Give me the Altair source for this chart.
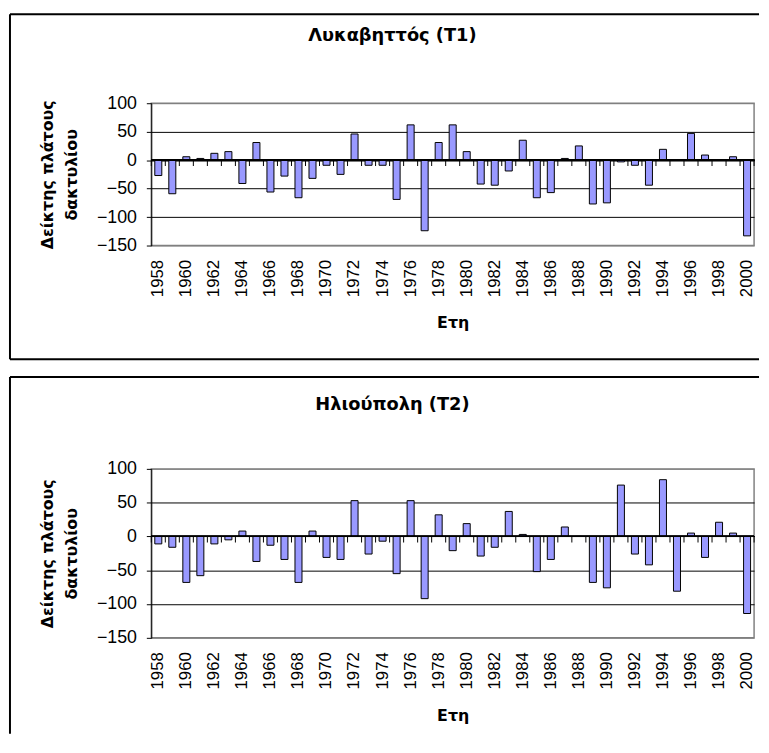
import altair as alt
import pandas as pd

years = list(range(1958, 2001))
label_years = list(range(1958, 2001, 2))
y_ticks = [-150, -100, -50, 0, 50, 100]

t1_title = "Λυκαβηττός (T1)"
t2_title = "Ηλιούπολη (T2)"
y_title = ["Δείκτης πλάτους", "δακτυλίου"]
x_title = "Ετη"

t1_values = [-27, -59, 6, 3, 12, 15, -41, 31, -56, -28, -66, -32, -9, -25, 46,
             -9, -9, -69, 62, -124, 31, 62, 15, -42, -44, -19, 35, -66, -57, 3,
             25, -77, -75, -3, -9, -44, 19, 0, 47, 9, 0, 6, -133]
t2_values = [-11, -16, -68, -58, -11, -5, 8, -37, -13, -34, -68, 8, -31, -34, 53,
             -26, -7, -55, 53, -92, 32, -21, 19, -29, -16, 37, 3, -52, -34, 14,
             0, -68, -76, 76, -26, -42, 84, -81, 5, -31, 21, 5, -114]

PLOT_W = 610
STEP = PLOT_W / len(years)
TITLE_FONT = "DejaVu Sans"
LABEL_FONT = "Liberation Sans"


def panel(title, values, height, title_y, border_top, border_bottom, draw_bottom, xtitle_y):
    df = pd.DataFrame({"year": years, "value": values, "zero": [0] * len(years)})
    one = pd.DataFrame({"t": [title]})

    xscale = alt.Scale(paddingInner=0.5, paddingOuter=0.25)
    xaxis = alt.Axis(values=label_years, title=x_title, titleY=xtitle_y)
    yscale = alt.Scale(domain=[-150, 100], nice=False, zero=False)
    yaxis = alt.Axis(values=y_ticks, title=y_title, titleY=height / 2)

    x = alt.X("year:O", scale=xscale, axis=xaxis)
    y_val = alt.Y("value:Q", scale=yscale, axis=yaxis)
    y_zero = alt.Y("zero:Q", scale=yscale, axis=yaxis)

    bars = alt.Chart(df).mark_bar(fill="#9999FF", stroke="black", strokeWidth=1).encode(x=x, y=y_val)
    zero = alt.Chart(df).mark_rule(color="black", strokeWidth=1).encode(y=y_zero)
    ticks = alt.Chart(df).mark_tick(
        orient="vertical", size=6, thickness=1, color="black", opacity=1,
        xOffset=-STEP / 2, yOffset=3,
    ).encode(x=x, y=y_zero)
    last_tick = alt.Chart(df).transform_filter("datum.year == 2000").mark_tick(
        orient="vertical", size=6, thickness=1, color="black", opacity=1,
        xOffset=STEP / 2, yOffset=3,
    ).encode(x=x, y=y_zero)

    ttl = alt.Chart(one).mark_text(
        font=TITLE_FONT, fontSize=18, fontWeight="bold", color="black",
        align="center", baseline="alphabetic",
    ).encode(x=alt.value(244), y=alt.value(title_y), text="t:N")

    left = -143
    right = 615
    top_line = alt.Chart(one).mark_rule(color="black", strokeWidth=2).encode(
        x=alt.value(left), x2=alt.value(right), y=alt.value(border_top))
    left_line = alt.Chart(one).mark_rule(color="black", strokeWidth=2).encode(
        x=alt.value(left), y=alt.value(border_top), y2=alt.value(border_bottom))
    layers = [bars, zero, ticks, last_tick, top_line, left_line, ttl]
    if draw_bottom:
        bottom_line = alt.Chart(one).mark_rule(color="black", strokeWidth=2).encode(
            x=alt.value(left), x2=alt.value(right), y=alt.value(border_bottom))
        layers.append(bottom_line)
    return alt.layer(*layers).properties(width=PLOT_W, height=height)


p1 = panel(t1_title, t1_values, 144, -63, -90, 259, True, 83)
p2 = panel(t2_title, t2_values, 171, -60, -93, 268, False, 84)

chart = (
    alt.vconcat(p1, p2, spacing=14)
    .properties(padding=0, background="white")
    .configure_view(stroke="#808080", strokeWidth=1.5)
    .configure_axisX(
        labelAngle=270, labelPadding=14, ticks=False, domain=False, grid=False,
        labelFont=LABEL_FONT, labelFontSize=17, labelColor="black",
        labelOverlap=False, titleFont=TITLE_FONT, titleFontSize=16,
        titleFontWeight="bold", titleColor="black", titleBaseline="alphabetic",
    )
    .configure_axisY(
        domainColor="black", domainWidth=1, tickColor="black", tickSize=5,
        labelPadding=10, labelFont=LABEL_FONT, labelFontSize=18,
        labelColor="black", labelOverlap=False, labelBound=False,
        labelFlush=False, grid=True, gridOpacity=1, gridWidth=1,
        gridColor=alt.condition("datum.value == 100 || datum.value == -150",
                                alt.value("#808080"), alt.value("black")),
        titleFont=TITLE_FONT, titleFontSize=16, titleFontWeight="bold",
        titleColor="black", titleAngle=270, titleX=-105, titleAlign="center",
        titleBaseline="middle", titleLineHeight=24,
    )
)

chart.save("out.html", embed_options={"renderer": "svg", "actions": False})
